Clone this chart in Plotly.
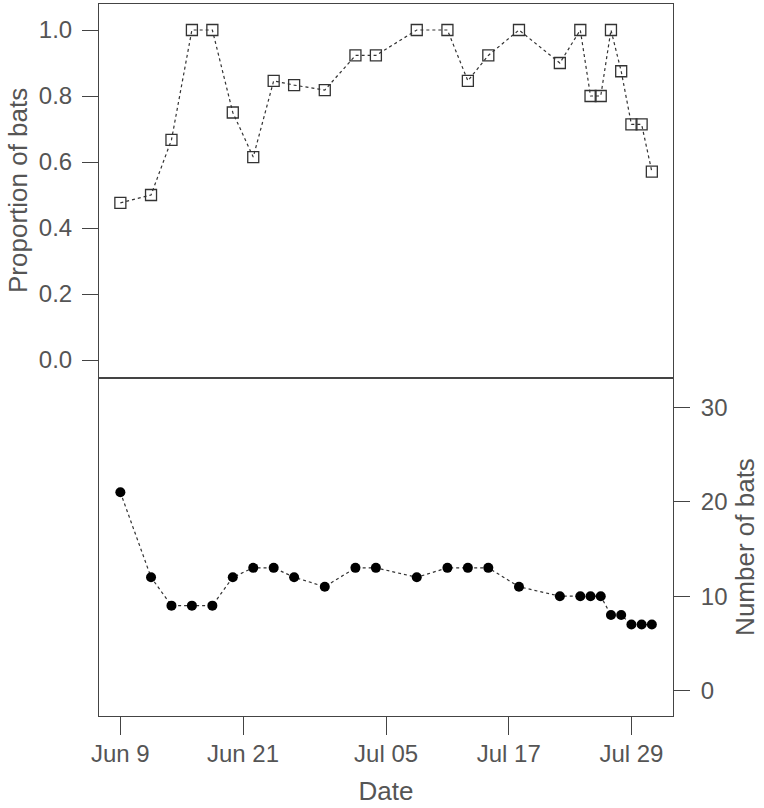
import plotly.graph_objects as go
from datetime import datetime, timedelta

dates = ["2015-06-09", "2015-06-12", "2015-06-14", "2015-06-16", "2015-06-18",
         "2015-06-20", "2015-06-22", "2015-06-24", "2015-06-26", "2015-06-29",
         "2015-07-02", "2015-07-04", "2015-07-08", "2015-07-11", "2015-07-13",
         "2015-07-15", "2015-07-18", "2015-07-22", "2015-07-24", "2015-07-25",
         "2015-07-26", "2015-07-27", "2015-07-28", "2015-07-29", "2015-07-30",
         "2015-07-31"]
proportion = [0.476, 0.500, 0.667, 1.000, 1.000, 0.750, 0.615, 0.846, 0.833, 0.818,
              0.923, 0.923, 1.000, 1.000, 0.846, 0.923, 1.000, 0.900, 1.000, 0.800,
              0.800, 1.000, 0.875, 0.714, 0.714, 0.571]
num_bats = [21, 12, 9, 9, 9, 12, 13, 13, 12, 11, 13, 13, 12, 13, 13, 13, 11, 10,
            10, 10, 10, 8, 8, 7, 7, 7]

tick_dates = ["2015-06-09", "2015-06-21", "2015-07-05", "2015-07-17", "2015-07-29"]
tick_text = ["Jun 9", "Jun 21", "Jul 05", "Jul 17", "Jul 29"]

base = datetime(2015, 6, 9)
x_lo = (base + timedelta(days=-2.09)).strftime("%Y-%m-%d %H:%M")
x_hi = (base + timedelta(days=54.07)).strftime("%Y-%m-%d %H:%M")

FONT = "Liberation Sans, Arial, sans-serif"
TXT = "#555555"
AX = "#444444"

fig = go.Figure()
fig.add_trace(go.Scatter(
    x=dates, y=proportion, mode="lines+markers", xaxis="x", yaxis="y",
    line=dict(color="#333333", width=1.2, dash="dot"),
    marker=dict(symbol="square-open", size=11, color="#333333", line=dict(width=1.3)),
    showlegend=False))
fig.add_trace(go.Scatter(
    x=dates, y=num_bats, mode="lines+markers", xaxis="x2", yaxis="y2",
    line=dict(color="#333333", width=1.2, dash="dot"),
    marker=dict(symbol="circle", size=10, color="black"),
    showlegend=False))

split = (716 - 378) / 712

common_axis = dict(showline=True, linecolor=AX, linewidth=1, mirror=True,
                   showgrid=False, zeroline=False,
                   tickfont=dict(family=FONT, size=24, color=TXT),
                   tickcolor=AX, tickwidth=1)
TITLE_FONT = dict(family=FONT, size=26, color=TXT)

fig.update_layout(
    width=764, height=808,
    margin=dict(l=99, r=91, t=4, b=92),
    plot_bgcolor="white", paper_bgcolor="white",
    font=dict(family=FONT, color=TXT),
    xaxis=dict(common_axis, anchor="y", domain=[0, 1], range=[x_lo, x_hi],
               type="date", showticklabels=False, ticks="", matches="x2"),
    xaxis2=dict(common_axis, anchor="y2", domain=[0, 1], range=[x_lo, x_hi],
                type="date", tickmode="array", tickvals=tick_dates, ticktext=tick_text,
                ticks="outside", ticklen=18, ticklabelstandoff=-2,
                title=dict(text="Date", font=TITLE_FONT, standoff=16)),
    yaxis=dict(common_axis, anchor="x", domain=[split, 1], range=[-0.0545, 1.0788],
               tickmode="array", tickvals=[0, 0.2, 0.4, 0.6, 0.8, 1.0],
               ticktext=["0.0", "0.2", "0.4", "0.6", "0.8", "1.0"],
               ticks="outside", ticklen=16, ticklabelstandoff=5),
    yaxis2=dict(common_axis, anchor="x2", domain=[0, split], range=[-2.68, 33.09],
                side="right", tickmode="array", tickvals=[0, 10, 20, 30],
                ticks="outside", ticklen=16, ticklabelstandoff=6,
                title=dict(text="Number of bats", font=TITLE_FONT, standoff=9)),
    annotations=[dict(text="Proportion of bats", textangle=-90, font=TITLE_FONT,
                      xref="paper", yref="paper", x=(1 - 99) / 574,
                      y=(split + 1) / 2, xanchor="left", yanchor="middle",
                      showarrow=False)],
)

fig.write_html("out.html", config={"displayModeBar": False},
               post_script="document.body.style.margin='0px';")
